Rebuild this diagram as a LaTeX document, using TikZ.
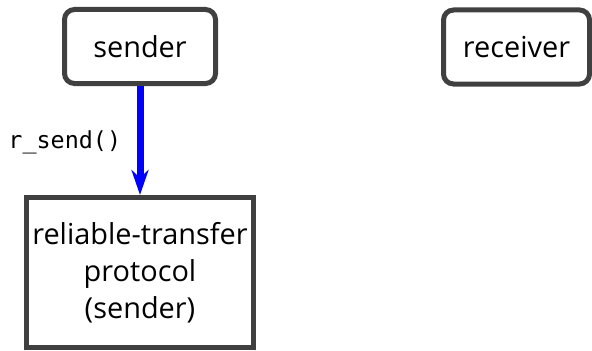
\documentclass[tikz,border=0pt]{standalone}
\usepackage{fontspec}
\setmainfont{Open Sans}
\setmonofont{DejaVu Sans Mono}
\usetikzlibrary{arrows.meta,positioning}
\definecolor{gray25}{RGB}{64, 64, 64}
\definecolor{blue100}{RGB}{0, 0, 255}

\begin{document}
\begin{tikzpicture}[x=1bp, y=1bp,
  host/.style={draw=gray25, line width=5bp, rounded corners=10bp, minimum height=74bp, font=\fontsize{29}{37}\selectfont},
  layer/.style={draw=gray25, line width=5bp, align=center, minimum width=227bp, minimum height=150bp, font=\fontsize{29}{37}\selectfont},
  call/.style={draw=blue100, line width=7bp, -{Stealth[length=25bp, width=17bp, inset=8bp]}}]
  \useasboundingbox (0, 0) rectangle (592, 350);
  \node[host, minimum width=151bp] (sender) at (140, 303.5) {sender};
  \node[host, minimum width=146bp] (receiver) at (516.5, 303) {receiver};
  \node[layer] (rdt) at (140, 77.5) {reliable-transfer\\protocol\\(sender)};
  \draw[call] (sender) -- node[left=12bp, yshift=-2bp, font=\ttfamily\fontsize{23.5}{28}\selectfont] {r\_send()} (rdt);
\end{tikzpicture}
\end{document}
